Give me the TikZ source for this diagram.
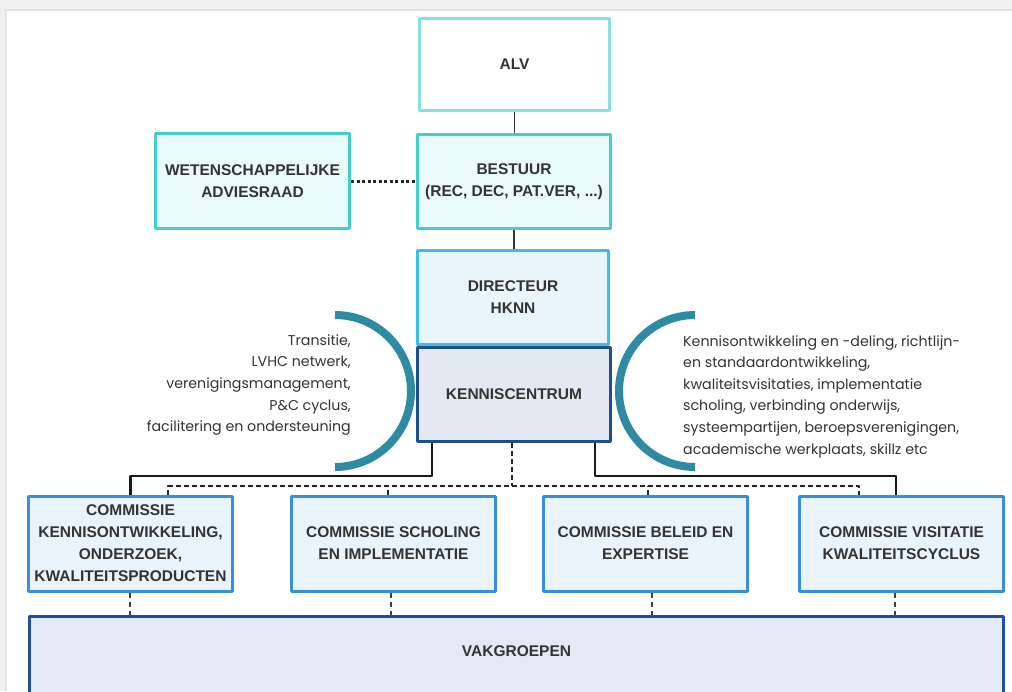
\documentclass[tikz,border=0pt]{standalone}
\usepackage{fontspec}
\setmainfont{Liberation Sans}
\newfontfamily\notefont{Poppins}
\usepackage{xcolor}
\usepackage{tikz}
\usetikzlibrary{positioning}
\definecolor{alvrand}{HTML}{86E0E0}
\definecolor{bestrand}{HTML}{40CFCB}
\definecolor{bestvul}{HTML}{EAF9FA}
\definecolor{dirrand}{HTML}{3DBEEA}
\definecolor{dirvul}{HTML}{E8F6FC}
\definecolor{kcrand}{HTML}{1E4F8A}
\definecolor{kcvul}{HTML}{E4E8F2}
\definecolor{comrand}{HTML}{3A90D8}
\definecolor{comvul}{HTML}{E9F3FB}
\definecolor{vakrand}{HTML}{1D50A0}
\definecolor{vakvul}{HTML}{E4EAF5}
\definecolor{boog}{HTML}{2F8AA3}
\definecolor{tekst}{HTML}{333333}

\begin{document}
\begin{tikzpicture}[line cap=round,line join=round,x=1pt,y=-1pt,
	blok/.style={draw,rectangle,line width=3pt,align=center,inner sep=0pt,text=tekst,font=\bfseries\fontsize{15.5}{22}\selectfont},
	commissie/.style={blok,draw=comrand,fill=comvul,minimum width=204pt,minimum height=95pt},
	notitie/.style={inner sep=0pt,text=tekst,font=\notefont\fontsize{14.2}{21.6}\selectfont},
	lijn/.style={line width=1.5pt,draw=tekst,line cap=butt},
	buslijn/.style={line width=2.2pt,draw=black!90,line cap=butt},
	stippel/.style={line width=3pt,draw=black!85,line cap=butt,dash pattern=on 3pt off 2.5pt},
	streep/.style={line width=2.4pt,draw=black!85,line cap=butt,dash pattern=on 5pt off 3pt},
	fijnstreep/.style={line width=1.2pt,draw=black!75,line cap=butt,dash pattern=on 5pt off 4pt}]
			\clip (0,0) rectangle (1012,691);
			% achtergrondrand
			\fill [color=black!6] (0,0) rectangle (1012,11);
			\fill [color=black!11] (0,8.5) rectangle (1012,11);
			\fill [color=black!6] (0,0) rectangle (7,691);
			\fill [color=black!10] (5,8.5) rectangle (7,691);
			% bovenste blokken
			\node [blok,draw=alvrand,fill=white,minimum width=190pt,minimum height=92pt] (alv) at (514.5,64.5) {ALV};
			\node [blok,draw=bestrand,fill=bestvul,minimum width=193pt,minimum height=94pt] (bestuur) at (514,181.5) {BESTUUR\\(REC, DEC, PAT.VER, ...)};
			\node [blok,draw=bestrand,fill=bestvul,minimum width=194pt,minimum height=95pt] (wa) at (252.5,181) {WETENSCHAPPELIJKE\\ADVIESRAAD};
			\node [blok,draw=dirrand,fill=dirvul,minimum width=191pt,minimum height=94pt] (directeur) at (513,297.5) {DIRECTEUR\\HKNN};
			\node [blok,draw=kcrand,fill=kcvul,minimum width=193pt,minimum height=94pt] (kc) at (514,394.5) {KENNISCENTRUM};
			\draw [lijn] (alv.south) -- (alv.south |- bestuur.north);
			\draw [lijn] (bestuur.south) -- (bestuur.south |- directeur.north);
			\draw [stippel] (wa.east) -- (wa.east -| bestuur.west);
			% bogen met taken
			\draw [line width=8pt,color=boog,line cap=butt] (335,315) arc [start angle=90,end angle=-90,radius=76pt];
			\draw [line width=8pt,color=boog,line cap=butt] (695,315) arc [start angle=90,end angle=270,radius=76pt];
			\node [notitie,anchor=east,align=right] (taaklinks) at (351,385) {Transitie,\\LVHC netwerk,\\verenigingsmanagement,\\P\&C cyclus,\\facilitering en ondersteuning};
			\node [notitie,anchor=west,align=left] (taakrechts) at (683,396.5) {Kennisontwikkeling en -deling, richtlijn-\\en standaardontwikkeling,\\kwaliteitsvisitaties, implementatie\\scholing, verbinding onderwijs,\\systeempartijen, beroepsverenigingen,\\academische werkplaats, skillz etc};
			% commissies
			\node [commissie] (c1) at (130.5,543.5) {COMMISSIE\\KENNISONTWIKKELING,\\ONDERZOEK,\\KWALITEITSPRODUCTEN};
			\node [commissie] (c2) at (393.5,543.5) {COMMISSIE SCHOLING\\EN IMPLEMENTATIE};
			\node [commissie] (c3) at (645.5,543.5) {COMMISSIE BELEID EN\\EXPERTISE};
			\node [commissie] (c4) at (901.5,543.5) {COMMISSIE VISITATIE\\KWALITEITSCYCLUS};
			\node [blok,draw=vakrand,fill=vakvul,minimum width=974pt,minimum height=100pt] (vak) at (516.5,666.5) {};
			\node [blok,draw=none] (vaktekst) at ([yshift=-36pt]vak.north) {VAKGROEPEN};
			% lijnen naar de commissies
			\draw [buslijn] ([xshift=-82pt]kc.south) |- ([yshift=18.5pt]c1.north) -- (c1.north);
			\draw [buslijn] ([xshift=81pt]kc.south) |- ([xshift=-5.5pt,yshift=18.5pt]c4.north) -- ([xshift=-5.5pt]c4.north);
			\coordinate (dbus) at (512,486);
			\draw [streep] ([xshift=-2pt]kc.south) -- (dbus);
			\draw [streep] ([xshift=37.5pt]c1.north) |- (dbus) -| ([xshift=-42.5pt]c4.north);
			\draw [streep] ([xshift=-5.5pt]c2.north) -- ([xshift=-5.5pt]c2.north |- dbus);
			\draw [streep] ([xshift=2.5pt]c3.north) -- ([xshift=2.5pt]c3.north |- dbus);
			% lijnen naar de vakgroepen
			\draw [fijnstreep] ([xshift=-0.5pt]c1.south) -- ([xshift=-0.5pt]c1.south |- vak.north);
			\draw [fijnstreep] ([xshift=-2.5pt]c2.south) -- ([xshift=-2.5pt]c2.south |- vak.north);
			\draw [fijnstreep] ([xshift=6.5pt]c3.south) -- ([xshift=6.5pt]c3.south |- vak.north);
			\draw [fijnstreep] ([xshift=-6.5pt]c4.south) -- ([xshift=-6.5pt]c4.south |- vak.north);
\end{tikzpicture}
\end{document}
